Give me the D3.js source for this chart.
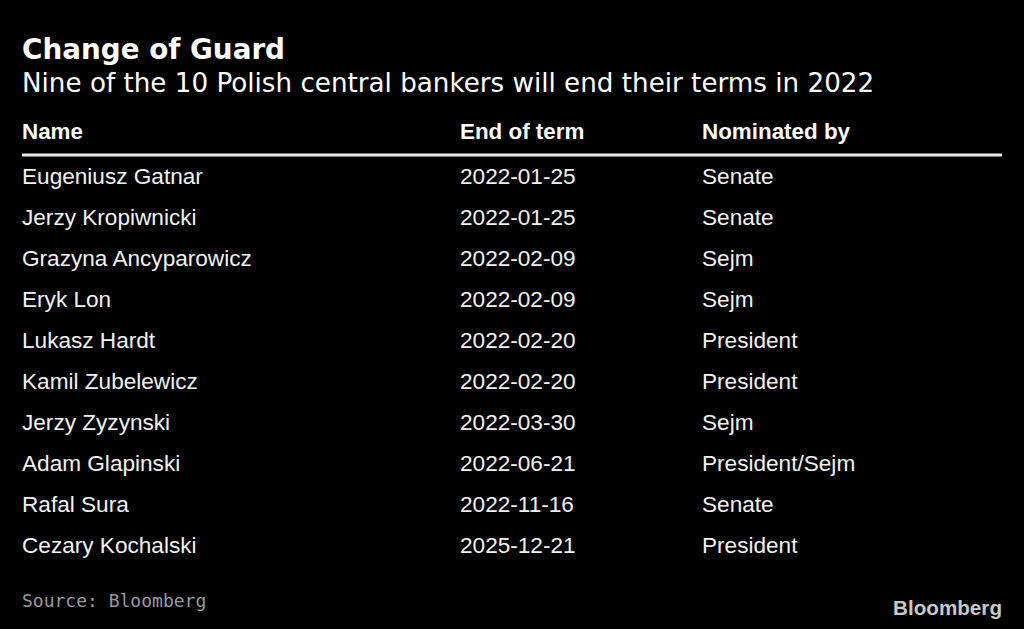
<!DOCTYPE html>
<html><head><meta charset="utf-8">
<script src="https://cdn.jsdelivr.net/npm/d3@7"></script>
<style>
html,body{margin:0;padding:0;background:#000;}
svg{display:block;}
</style></head>
<body>
<svg id="chart" width="1024" height="629"></svg>
<script>
const title = "Change of Guard";
const subtitle = "Nine of the 10 Polish central bankers will end their terms in 2022";
const columns = ["Name", "End of term", "Nominated by"];
const names = ["Eugeniusz Gatnar","Jerzy Kropiwnicki","Grazyna Ancyparowicz","Eryk Lon","Lukasz Hardt","Kamil Zubelewicz","Jerzy Zyzynski","Adam Glapinski","Rafal Sura","Cezary Kochalski"];
const endOfTerm = ["2022-01-25","2022-01-25","2022-02-09","2022-02-09","2022-02-20","2022-02-20","2022-03-30","2022-06-21","2022-11-16","2025-12-21"];
const nominatedBy = ["Senate","Senate","Sejm","Sejm","President","President","Sejm","President/Sejm","Senate","President"];
const source = "Source: Bloomberg";

const svg = d3.select("#chart");
svg.append("rect").attr("width",1024).attr("height",629).attr("fill","#000");

svg.append("text").attr("x",22).attr("y",59)
  .attr("font-family","DejaVu Sans").attr("font-weight","bold").attr("font-size",27.8)
  .attr("fill","#fff").text(title);
svg.append("text").attr("x",22).attr("y",92)
  .attr("font-family","DejaVu Sans").attr("font-size",26.2)
  .attr("fill","#fff").text(subtitle);

const x = d3.scaleOrdinal().domain(columns).range([22,460,702]);
svg.selectAll("text.hdr").data(columns).join("text").attr("class","hdr")
  .attr("x",d=>x(d)).attr("y",131).attr("dy","0.35em")
  .attr("font-family","Liberation Sans, Arial").attr("font-weight","bold").attr("font-size",22.4)
  .attr("fill","#fff").text(d=>d);

svg.append("line").attr("x1",22).attr("x2",1002).attr("y1",155).attr("y2",155)
  .attr("stroke","#e8e8e8").attr("stroke-width",3);

const y = d3.scalePoint().domain(d3.range(names.length)).range([176,545]);
const rows = names.map((n,i)=>[n,endOfTerm[i],nominatedBy[i]]);
const g = svg.selectAll("g.row").data(rows).join("g").attr("class","row")
  .attr("transform",(d,i)=>`translate(0,${y(i)})`);
g.selectAll("text").data(d=>d.map((v,j)=>({v,c:columns[j]}))).join("text")
  .attr("x",d=>x(d.c)).attr("y",0).attr("dy","0.35em")
  .attr("font-family","Liberation Sans, Arial").attr("font-size",22.6)
  .attr("fill","#f2f2f2").text(d=>d.v);

svg.append("text").attr("x",22).attr("y",607)
  .attr("font-family","DejaVu Sans Mono").attr("font-size",18)
  .attr("fill","#9a9a9a").text(source);

svg.append("text").attr("x",1002).attr("y",615).attr("text-anchor","end")
  .attr("font-family","Liberation Sans Narrow, Liberation Sans, Arial").attr("font-weight","bold").attr("font-size",21)
  .attr("textLength",109).attr("lengthAdjust","spacingAndGlyphs")
  .attr("fill","#c8c8c8").text("Bloomberg");
</script>
</body></html>
